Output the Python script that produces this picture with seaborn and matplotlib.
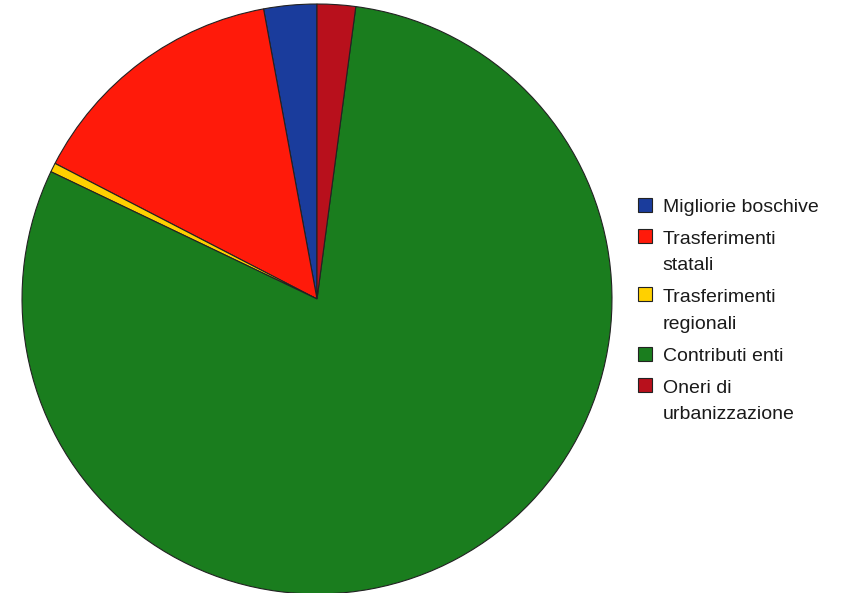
import matplotlib
matplotlib.use("Agg")
import matplotlib.pyplot as plt
import matplotlib.patches as mpatches
from matplotlib.legend_handler import HandlerPatch
import seaborn as sns

# --- data ---
labels = ["Migliorie boschive", "Trasferimenti\nstatali", "Trasferimenti\nregionali",
          "Contributi enti", "Oneri di\nurbanizzazione"]
values = [2.9, 14.5, 0.5, 80.0, 2.1]
colors = ["#1a3c9c", "#ff1a0a", "#ffd000", "#1a7d1e", "#b8101c"]

sns.set_style("white")
plt.rcParams['font.family'] = ['Liberation Sans', 'DejaVu Sans']

FS = 14
LS = 1.75

fig = plt.figure(figsize=(8.57, 5.93), dpi=100)
ax = fig.add_axes([0.0257, -0.0017, 0.6884, 0.995])

wedges, _ = ax.pie(values, colors=colors, startangle=90, counterclock=True,
                   wedgeprops=dict(edgecolor="#222222", linewidth=0.8))
ax.set_aspect("equal")
ax.set_xlim(-1, 1)
ax.set_ylim(-1, 1)
ax.axis("off")


# legend squares sit on the first line of a wrapped label
def make_square(nlines):
    shift = (nlines - 1) * FS * LS * 0.5 * 0.95

    def patch_func(legend, orig_handle, xdescent, ydescent, width, height, fontsize):
        return mpatches.Rectangle((-xdescent, -ydescent + shift), width, height)
    return HandlerPatch(patch_func=patch_func)


hmap = {w: make_square(lab.count("\n") + 1) for w, lab in zip(wedges, labels)}

leg = fig.legend(wedges, labels, loc="center left", bbox_to_anchor=(0.744, 0.476),
                 frameon=False, fontsize=FS, handlelength=0.75, handleheight=0.75,
                 handletextpad=0.55, labelspacing=0.75, borderpad=0, borderaxespad=0,
                 handler_map=hmap)
for t in leg.get_texts():
    t.set_color("#1a1a1a")
    t.set_linespacing(LS)

fig.savefig("out.png", dpi=100)
